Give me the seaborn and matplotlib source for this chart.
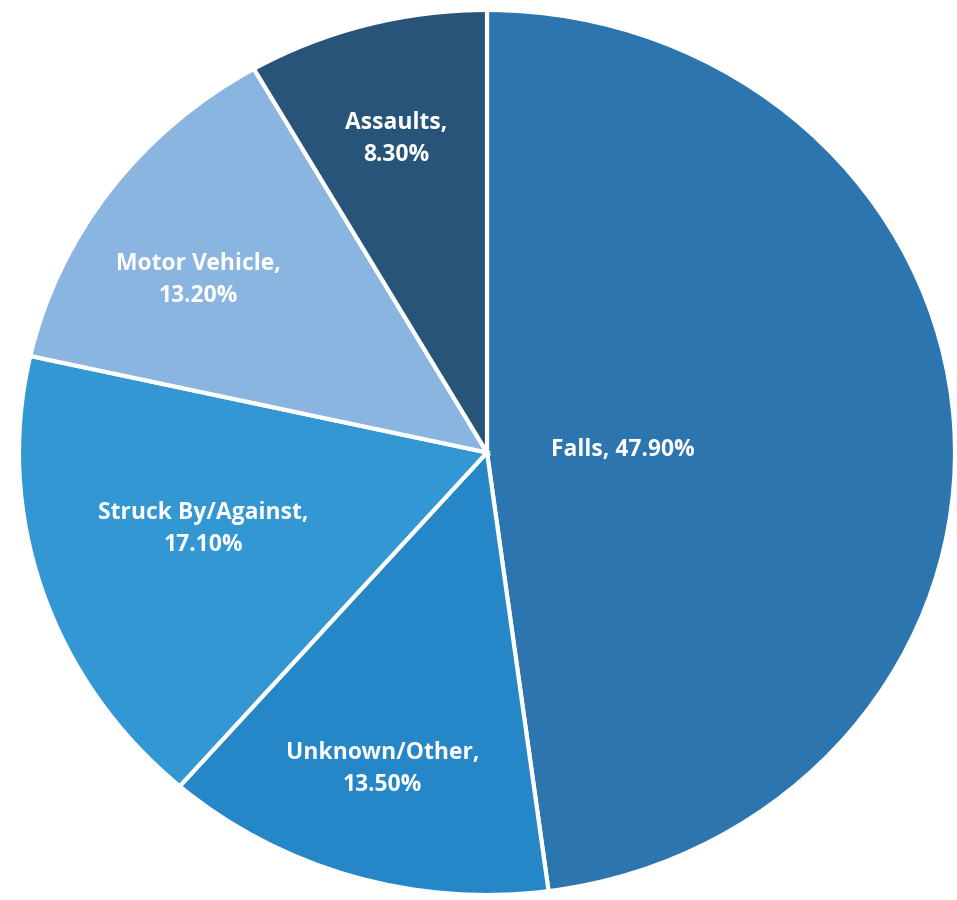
import numpy as np
import seaborn as sns
import matplotlib
matplotlib.use("Agg")
import matplotlib.pyplot as plt

# injury causes, clockwise from 12 o'clock
causes = ["Falls", "Unknown/Other", "Struck By/Against", "Motor Vehicle", "Assaults"]
shares = [47.9, 13.5, 17.1, 13.2, 8.3]
colors = ["#2c75ae", "#2586c8", "#3397d4", "#8ab5e0", "#285479"]

# label placement (radius fraction, angle nudge in deg), tuned by eye
lab_r = [0.29, 0.75, 0.63, 0.73, 0.735]
lab_off = [-2.8, -0.6, -2.2, 4.1, 0.3]

sns.set_theme(style="white")
plt.rcParams['font.family'] = ['Open Sans', 'DejaVu Sans']

fig = plt.figure(figsize=(9.57, 9.0), dpi=100)
ax = fig.add_axes([0, 0, 1, 1])

wedges, _ = ax.pie(shares, colors=sns.color_palette(colors), startangle=90,
                   counterclock=False,
                   wedgeprops=dict(edgecolor="white", linewidth=3))

# reference pie is a little wider than tall and cropped by the frame
cx, cy, rx, ry = 487, 452.5, 468, 442.5
ax.set_aspect("auto")
ax.set_xlim(-cx / rx, (957 - cx) / rx)
ax.set_ylim(-(900 - cy) / ry, cy / ry)
ax.axis("off")

for w, name, val, r, off in zip(wedges, causes, shares, lab_r, lab_off):
    mid = np.deg2rad((w.theta1 + w.theta2) / 2 + off)
    if name == "Falls":
        txt = f"{name}, {val:.2f}%"
    else:
        txt = f"{name},\n{val:.2f}%"
    ax.text(r * np.cos(mid), r * np.sin(mid), txt, ha="center", va="center",
            color="white", fontsize=16.5, fontweight="bold", linespacing=1.45)

fig.savefig("out.png", dpi=100, facecolor="white")
